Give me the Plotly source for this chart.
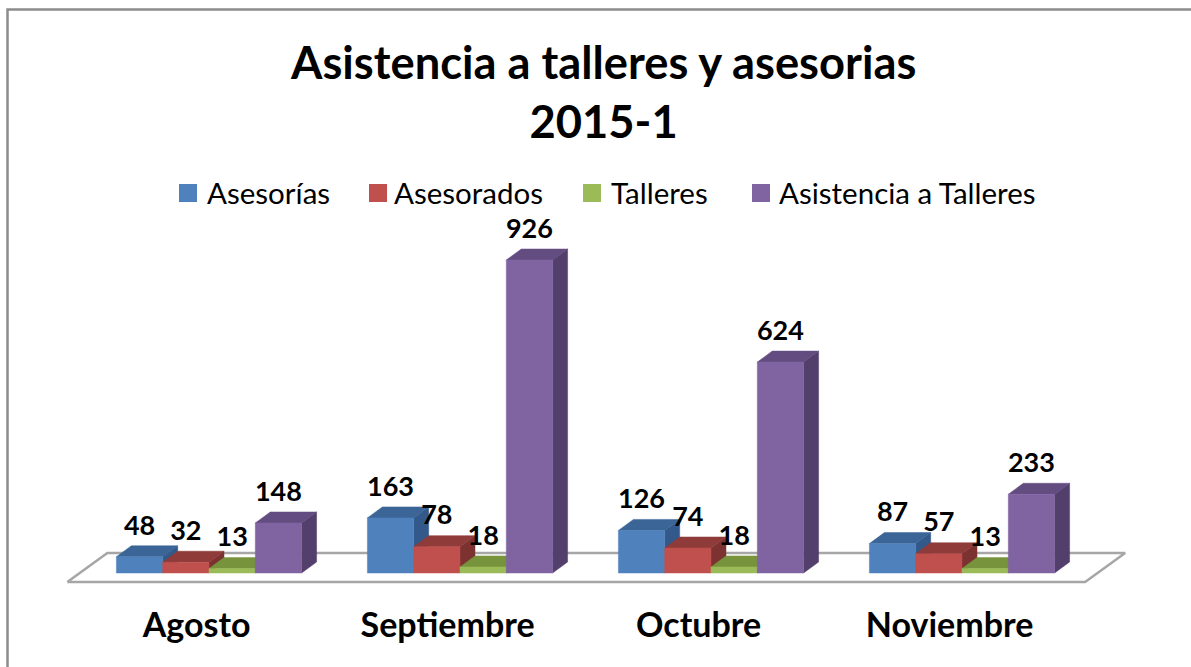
import plotly.graph_objects as go

# ---------------- data ----------------
categories = ["Agosto", "Septiembre", "Octubre", "Noviembre"]
series_names = ["Asesorías", "Asesorados", "Talleres", "Asistencia a Talleres"]
asesorias = [48, 163, 126, 87]
asesorados = [32, 78, 74, 57]
talleres = [13, 18, 18, 13]
asistencia = [148, 926, 624, 233]
title_text = "Asistencia a talleres y asesorias<br>2015-1"

# ---------------- styles / layout ----------------
front_colors = ["#4F81BD", "#C0504D", "#9BBB59", "#8064A2"]
top_colors = ["#3B6596", "#8E3B39", "#77933C", "#634C80"]
side_colors = ["#33598A", "#7C3230", "#66803A", "#533F6B"]
FONT = "Lato"

W, H = 1191, 667
X0_PX, X_STEP = 209.0, 251.0      # pixel centre of first group, spacing between groups
Y0_PX, Y_SCALE = 573.0, 0.338     # pixel baseline, pixels per unit
BAR_PX = 46.3                     # bar width in pixels
DEPTH_PX = (15.0, 11.0)           # bar depth projection (right, up)
FLOOR_DEPTH_PX = (40.0, 29.0)     # floor depth projection
FLOOR_FRONT_FRAC = 0.31           # bars stand this far back on the floor

# legend layout (pixels)
LEG_SQ_X = [179, 369, 583, 752]
LEG_TXT_X = [205, 392, 609, 777]
LEG_Y, LEG_SQ = 193, 18

x_range = [(0 - X0_PX) / X_STEP, (W - X0_PX) / X_STEP]
y_range = [(Y0_PX - H) / Y_SCALE, Y0_PX / Y_SCALE]
bw = BAR_PX / X_STEP
ddx, ddy = DEPTH_PX[0] / X_STEP, DEPTH_PX[1] / Y_SCALE
fdx, fdy = FLOOR_DEPTH_PX[0] / X_STEP, FLOOR_DEPTH_PX[1] / Y_SCALE

series_values = [asesorias, asesorados, talleres, asistencia]
n_cat = len(categories)
n_ser = len(series_values)

fig = go.Figure()

# floor plate
fl_left, fl_right = -0.5 - 0.015, n_cat - 0.5 + 0.04
fx0, fy0 = -FLOOR_FRONT_FRAC * fdx, -FLOOR_FRONT_FRAC * fdy
fx1, fy1 = (1 - FLOOR_FRONT_FRAC) * fdx, (1 - FLOOR_FRONT_FRAC) * fdy
fig.add_trace(go.Scatter(
    x=[fl_left + fx0, fl_right + fx0, fl_right + fx1, fl_left + fx1, fl_left + fx0],
    y=[fy0, fy0, fy1, fy1, fy0],
    mode="lines", fill="toself", fillcolor="white",
    line=dict(color="#A6A6A6", width=2.5),
    hoverinfo="skip", showlegend=False))

# 3D bars: per series, side / top / front faces
for s, vals in enumerate(series_values):
    off = (s - (n_ser - 1) / 2) * bw
    side_x, side_y, top_x, top_y, fr_x, fr_y = [], [], [], [], [], []
    for i, v in enumerate(vals):
        xl = i + off - bw / 2
        xr = xl + bw
        side_x += [xr, xr + ddx, xr + ddx, xr, xr, None]
        side_y += [0, ddy, v + ddy, v, 0, None]
        top_x += [xl, xr, xr + ddx, xl + ddx, xl, None]
        top_y += [v, v, v + ddy, v + ddy, v, None]
        fr_x += [xl, xr, xr, xl, xl, None]
        fr_y += [0, 0, v, v, 0, None]
    for xs, ys, col in ((side_x, side_y, side_colors[s]),
                        (top_x, top_y, top_colors[s]),
                        (fr_x, fr_y, front_colors[s])):
        fig.add_trace(go.Scatter(x=xs, y=ys, mode="lines", fill="toself",
                                 fillcolor=col, line=dict(color=col, width=0.5),
                                 name=series_names[s], hoverinfo="skip",
                                 showlegend=False))

# value labels
for s, vals in enumerate(series_values):
    off = (s - (n_ser - 1) / 2) * bw
    fig.add_trace(go.Scatter(
        x=[i + off for i in range(n_cat)],
        y=[v + 29 / Y_SCALE for v in vals],
        mode="text", text=[str(v) for v in vals],
        textposition="middle center",
        textfont=dict(family=FONT, size=27, color="black", weight="bold"),
        hoverinfo="skip", showlegend=False))

# category labels (front edge of floor)
fig.add_trace(go.Scatter(
    x=[i - FLOOR_FRONT_FRAC * fdx for i in range(n_cat)],
    y=[(Y0_PX - 628) / Y_SCALE] * n_cat,
    mode="text", text=categories, textposition="middle center",
    textfont=dict(family=FONT, size=34, color="black", weight="bold"),
    hoverinfo="skip", showlegend=False))

# legend (drawn manually to match the square size and spacing)
for s, name in enumerate(series_names):
    fig.add_shape(type="rect", xref="paper", yref="paper",
                  x0=LEG_SQ_X[s] / W, x1=(LEG_SQ_X[s] + LEG_SQ) / W,
                  y0=1 - (LEG_Y + LEG_SQ / 2) / H, y1=1 - (LEG_Y - LEG_SQ / 2) / H,
                  line=dict(width=0), fillcolor=front_colors[s])
    fig.add_annotation(text=name, x=LEG_TXT_X[s] / W, y=1 - LEG_Y / H,
                       xref="paper", yref="paper", xanchor="left", yanchor="middle",
                       showarrow=False,
                       font=dict(family=FONT, size=29.5, color="black"))

fig.add_annotation(text=title_text, x=0.506, y=1 - 91 / H, xref="paper", yref="paper",
                   xanchor="center", yanchor="middle", showarrow=False,
                   font=dict(family=FONT, size=45.3, color="black", weight="bold"))

fig.add_shape(type="rect", xref="paper", yref="paper",
              x0=7.5 / W, x1=1.05, y0=-0.05, y1=1 - 9.5 / H,
              line=dict(color="#8C8C8C", width=2.5), fillcolor="rgba(0,0,0,0)")

fig.update_layout(
    width=W, height=H,
    margin=dict(l=0, r=0, t=0, b=0),
    paper_bgcolor="white", plot_bgcolor="white",
    xaxis=dict(range=x_range, visible=False, fixedrange=True),
    yaxis=dict(range=y_range, visible=False, fixedrange=True),
    showlegend=False,
)

fig.write_html("out.html", config={"displayModeBar": False},
               post_script="document.body.style.margin='0';")
